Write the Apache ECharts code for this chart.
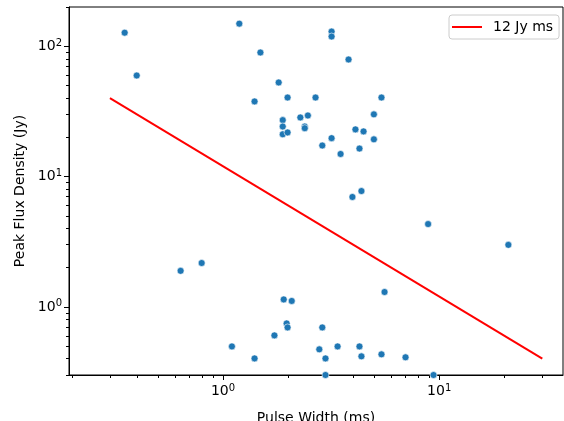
<!DOCTYPE html>
<html>
<head>
<meta charset="utf-8">
<script src="https://cdn.jsdelivr.net/npm/echarts@6/dist/echarts.min.js"></script>
<style>
  html, body { margin: 0; padding: 0; background: #fff; }
  #chart { width: 564px; height: 421px; }
</style>
</head>
<body>
<div id="chart"></div>
<script>
// pulse width (ms) and peak flux density (Jy) of each burst
const pulseWidth = [
  0.351, 0.399, 1.19, 1.49, 1.81, 1.40, 1.99, 1.89, 1.89, 1.89,
  1.99, 2.28, 2.47, 2.39, 2.39, 3.18, 3.18, 3.81, 2.68, 5.41,
  4.99, 4.10, 4.47, 4.99, 3.18, 2.88, 4.28, 3.50, 3.97, 4.37,
  0.637, 0.797, 1.91, 2.08, 1.97, 1.99, 1.73, 1.10, 1.40, 8.89,
  20.9, 5.59, 2.88, 2.79, 2.98, 3.39, 4.28, 4.37, 5.41, 6.99,
  2.98, 9.42
];
const peakFlux = [
  127, 59.6, 149, 89.5, 52.7, 37.7, 40.4, 27.1, 24.2, 21.1,
  21.8, 28.4, 29.4, 24.2, 23.5, 129.6, 118.7, 79.1, 40.4, 40.4,
  30.0, 23.0, 22.2, 19.3, 19.7, 17.3, 16.4, 14.9, 6.97, 7.74,
  1.89, 2.17, 1.14, 1.11, 0.746, 0.695, 0.604, 0.497, 0.402, 4.32,
  2.99, 1.30, 0.695, 0.472, 0.402, 0.497, 0.497, 0.417, 0.432, 0.41,
  0.30, 0.30
];
// 12 Jy ms fluence line end points
const fluenceWidth = [0.3, 30];
const fluenceFlux = [40, 0.4];

const xMajor = [1, 10];
const xMinor = [0.2, 0.3, 0.4, 0.5, 0.6, 0.7, 0.8, 0.9, 2, 3, 4, 5, 6, 7, 8, 9, 20, 30];
const yMajor = [1, 10, 100];
const yMinor = [0.3, 0.4, 0.5, 0.6, 0.7, 0.8, 0.9, 2, 3, 4, 5, 6, 7, 8, 9, 20, 30, 40, 50, 60, 70, 80, 90, 200];

const font = 'DejaVu Sans';
const powLabel = v => '10{sup|' + Math.round(Math.log10(v)) + '}';
const labelRich = {
  sup: { fontSize: 10, fontFamily: font, color: '#000', verticalAlign: 'top', padding: [0, 0, 6, 0] }
};

const chart = echarts.init(document.getElementById('chart'));

function axisPair(isX, min, max, major, minor, name) {
  const main = {
    type: 'log', logBase: 10, min: min, max: max,
    position: isX ? 'bottom' : 'left',
    name: name, nameLocation: 'middle',
    nameGap: isX ? 36 : 42,
    nameTextStyle: { fontFamily: font, fontSize: 14, color: '#000' },
    axisLine: { show: true, lineStyle: { color: '#000', width: 1 } },
    axisTick: { show: true, customValues: major, length: 5, lineStyle: { color: '#000', width: 1 } },
    axisLabel: {
      customValues: major, formatter: powLabel, margin: isX ? 8 : 7,
      fontFamily: font, fontSize: 14, color: '#000', rich: labelRich
    },
    splitLine: { show: false }
  };
  const sub = {
    type: 'log', logBase: 10, min: min, max: max,
    position: isX ? 'bottom' : 'left',
    axisLine: { show: false },
    axisTick: { show: true, customValues: minor, length: 3, lineStyle: { color: '#000', width: 1 } },
    axisLabel: { show: false },
    splitLine: { show: false }
  };
  return [main, sub];
}

chart.setOption({
  animation: false,
  grid: {
    left: 69, right: 1, top: 7, bottom: 46,
    show: true, borderColor: '#000', borderWidth: 1,
    containLabel: false, outerBoundsMode: 'none'
  },
  legend: {
    left: 449, top: 15,
    padding: [5, 6, 5, 3],
    borderColor: '#cccccc', borderWidth: 1, borderRadius: 3,
    backgroundColor: 'rgba(255,255,255,0.8)',
    itemWidth: 30, itemHeight: 2,
    textStyle: { fontFamily: font, fontSize: 14, color: '#000', padding: [0, 0, 0, 6] },
    data: [{ name: '12 Jy ms', icon: 'rect' }]
  },
  xAxis: axisPair(true, 0.194, 37.4, xMajor, xMinor, 'Pulse Width (ms)'),
  yAxis: axisPair(false, 0.3, 200, yMajor, yMinor, 'Peak Flux Density (Jy)'),
  series: [
    {
      name: 'bursts',
      type: 'scatter',
      symbolSize: 7,
      itemStyle: { color: '#1f77b4', borderColor: '#fff', borderWidth: 0.6, opacity: 1 },
      data: pulseWidth.map((w, i) => [w, peakFlux[i]])
    },
    {
      name: '12 Jy ms',
      type: 'line',
      showSymbol: false,
      symbol: 'none',
      color: '#ff0000',
      lineStyle: { color: '#ff0000', width: 2 },
      data: fluenceWidth.map((w, i) => [w, fluenceFlux[i]])
    }
  ]
});
</script>
</body>
</html>
